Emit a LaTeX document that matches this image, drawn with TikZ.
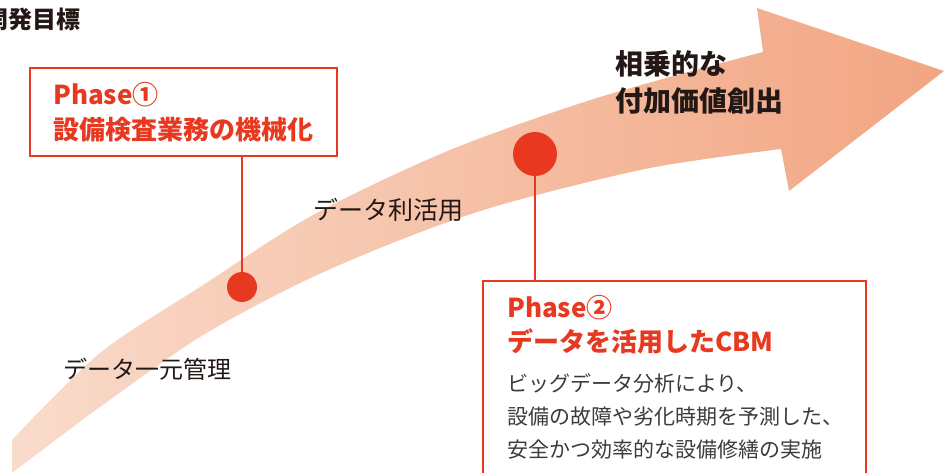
\documentclass[tikz,border=0pt]{standalone}
\usepackage{fontspec}
\newfontfamily\cjk{Noto Sans CJK JP}
\definecolor{arrowL}{RGB}{249,219,203}
\definecolor{arrowR}{RGB}{242,165,130}
\definecolor{accent}{RGB}{232,56,32}
\definecolor{ink}{RGB}{35,24,21}
\definecolor{body}{RGB}{62,58,57}
\begin{document}
\begin{tikzpicture}[x=1pt,y=-1pt,
  box/.style={draw=accent, line width=1.8pt, inner sep=0pt, anchor=north west},
  conn/.style={draw=accent, line width=1.8pt},
  dotsty/.style={circle, fill=accent, inner sep=0pt},
  txt/.style={inner sep=0pt, anchor=base west}]
\useasboundingbox (0,0) rectangle (944,473);
% big arrow
\shade[left color=arrowL, right color=arrowR]
  plot[smooth] coordinates {(12,440) (100,353) (200,287) (313,215) (450,150) (600,97) (763,52)}
  -- (757,8) -- (944,71) -- (789,191) -- (781,149)
  -- plot[smooth] coordinates {(781,149) (650,168) (500,205) (400,240) (300,283) (200,337) (100,407) (12,473)}
  -- cycle;
% title
\node[inner sep=0pt, anchor=base east, text=ink, font={\cjk\bfseries\fontsize{24}{28}\selectfont}] (title) at (81,29) {開発目標};
% phase 1 box
\node[box, minimum width=307pt, minimum height=88pt] (box1) at (29,67) {};
\node[txt, text=accent, font={\cjk\bfseries\fontsize{26}{30}\selectfont}] (p1a) at (53,105) {Phase①};
\node[txt, text=accent, font={\cjk\bfseries\fontsize{26}{30}\selectfont}] (p1b) at (53,140) {設備検査業務の機械化};
% phase 2 box
\node[box, minimum width=383pt, minimum height=220pt] (box2) at (482,280) {};
\node[txt, text=accent, font={\cjk\bfseries\fontsize{26}{30}\selectfont}] (p2a) at (507,317) {Phase②};
\node[txt, text=accent, font={\cjk\bfseries\fontsize{26}{30}\selectfont}] (p2b) at (507,351) {データを活用したCBM};
\node[txt, text=body, font={\cjk\fontsize{21}{25}\selectfont}] (p2c) at (507,391) {ビッグデータ分析により、};
\node[txt, text=body, font={\cjk\fontsize{21}{25}\selectfont}] (p2d) at (507,424) {設備の故障や劣化時期を予測した、};
\node[txt, text=body, font={\cjk\fontsize{21}{25}\selectfont}] (p2e) at (507,457) {安全かつ効率的な設備修繕の実施};
% dots and connectors
\node[dotsty, minimum size=30pt] (dot1) at (242,287) {};
\node[dotsty, minimum size=44pt] (dot2) at (535,154) {};
\draw[conn] (dot1) -- (dot1 |- box1.south);
\draw[conn] (dot2) -- (dot2 |- box2.north);
% labels on the arrow
\node[txt, text=ink, font={\cjk\fontsize{24}{28}\selectfont}] (l1) at (63,378) {データ一元管理};
\node[txt, text=ink, font={\cjk\fontsize{25}{29}\selectfont}] (l2) at (313,219) {データ利活用};
\node[txt, text=ink, font={\cjk\bfseries\fontsize{28}{32}\selectfont}] (l3a) at (615,75) {相乗的な};
\node[txt, text=ink, font={\cjk\bfseries\fontsize{28}{32}\selectfont}] (l3b) at (615,112) {付加価値創出};
\end{tikzpicture}
\end{document}
